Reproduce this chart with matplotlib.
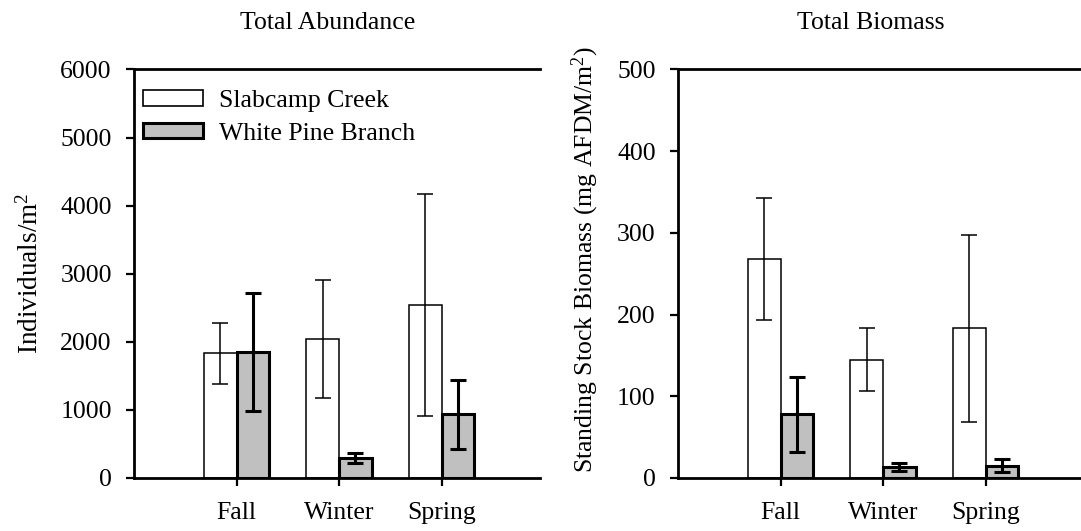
import matplotlib
matplotlib.use("Agg")
import matplotlib.pyplot as plt
import numpy as np
from matplotlib.patches import Patch

plt.rcParams['font.family'] = ['Liberation Serif', 'DejaVu Serif']
plt.rcParams['mathtext.fontset'] = 'custom'
plt.rcParams['mathtext.rm'] = 'Liberation Serif'
plt.rcParams['mathtext.it'] = 'Liberation Serif:italic'

seasons = ["Fall", "Winter", "Spring"]
sites = ["Slabcamp Creek", "White Pine Branch"]

# abundance (individuals/m2), mean and error
abund_slab = [1830, 2045, 2540]
abund_slab_err = [450, 865, 1625]
abund_wpb = [1850, 290, 935]
abund_wpb_err = [870, 70, 505]

# biomass (mg AFDM/m2), mean and error
bio_slab = [268, 145, 183]
bio_slab_err = [75, 39, 114]
bio_wpb = [78, 13, 15]
bio_wpb_err = [46, 5, 8]

W, H = 1081, 531
fig = plt.figure(figsize=(W / 100, H / 100), dpi=100)
ax1 = fig.add_axes([134 / W, 1 - 478 / H, 406 / W, 408.5 / H])
ax2 = fig.add_axes([678 / W, 1 - 478 / H, 403 / W, 408.5 / H])

x = np.arange(1, 4)
bw = 0.32
gray = "#c0c0c0"


def panel(ax, slab, slab_err, wpb, wpb_err, ymax, step, xmax):
    ax.bar(x - bw / 2, slab, bw, color="white", edgecolor="black", linewidth=1.1, zorder=2)
    ax.bar(x + bw / 2, wpb, bw, color=gray, edgecolor="black", linewidth=2.2, zorder=3)
    ax.errorbar(x - bw / 2, slab, yerr=slab_err, fmt="none", ecolor="black",
                elinewidth=1.1, capsize=5.6, capthick=1.1, zorder=4)
    ax.errorbar(x + bw / 2, wpb, yerr=wpb_err, fmt="none", ecolor="black",
                elinewidth=2.2, capsize=5.6, capthick=2.2, zorder=5)
    ax.set_xlim(0, xmax)
    ax.set_ylim(0, ymax)
    ax.set_yticks(np.arange(0, ymax + 1, step))
    ax.set_xticks(x)
    ax.set_xticklabels(seasons)
    ax.spines["right"].set_visible(False)
    for s in ["left", "bottom", "top"]:
        ax.spines[s].set_linewidth(2.0)
    ax.tick_params(axis="both", direction="out", length=6, width=1.6, labelsize=18.5, pad=10)
    ax.tick_params(axis="x", pad=11)


panel(ax1, abund_slab, abund_slab_err, abund_wpb, abund_wpb_err, 6000, 1000, 3.96)
panel(ax2, bio_slab, bio_slab_err, bio_wpb, bio_wpb_err, 500, 100, 3.93)

ax1.set_title("Total Abundance", fontsize=18.5, x=0.478, pad=29)
ax2.set_title("Total Biomass", fontsize=18.5, x=0.479, pad=29)

ax1.set_ylabel("Individuals/m$^2$", fontsize=19.5)
ax1.yaxis.set_label_coords(-0.222, 0.5)
ax2.set_ylabel("Standing Stock Biomass (mg AFDM/m$^2$)", fontsize=18.5)
ax2.yaxis.set_label_coords(-0.192, 0.535)

handles = [Patch(facecolor="white", edgecolor="black", linewidth=1.2),
           Patch(facecolor=gray, edgecolor="black", linewidth=2.2)]
ax1.legend(handles, sites, loc="upper left", bbox_to_anchor=(0.022, 0.95),
           frameon=False, fontsize=18.5, handlelength=2.35, handleheight=0.55,
           handletextpad=0.62, labelspacing=0.42, borderpad=0, borderaxespad=0)

fig.savefig("out.png", dpi=100)
